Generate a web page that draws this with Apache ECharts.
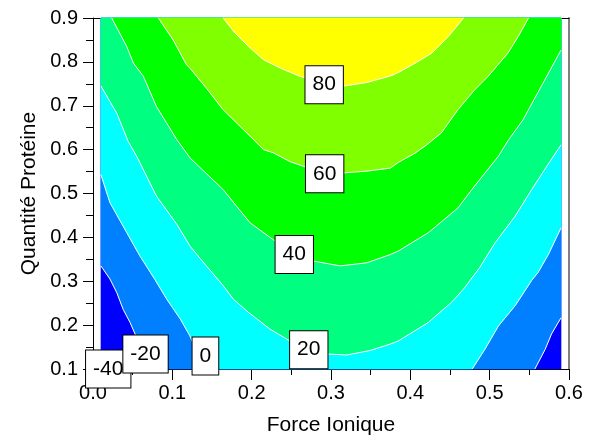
<!DOCTYPE html>
<html>
<head>
<meta charset="utf-8">
<script src="https://cdn.jsdelivr.net/npm/echarts@6/dist/echarts.min.js"></script>
<style>
html,body{margin:0;padding:0;background:#fff;}
#chart{width:598px;height:441px;}
</style>
</head>
<body>
<div id="chart"></div>
<script>
// ---- data ----
const levels = [-40, -20, 0, 20, 40, 60, 80];
const bandColors = ['#0000ff', '#0080ff', '#00ffff', '#00ff80', '#00ff00', '#80ff00', '#ffff00'];
const xExtent = [0.01, 0.59];
const yExtent = [0.1, 0.9];
const xTicks = [0, 0.1, 0.2, 0.3, 0.4, 0.5, 0.6];
const yTicks = [0.1, 0.2, 0.3, 0.4, 0.5, 0.6, 0.7, 0.8, 0.9];

// contour lines (x, y) — left pieces run top->bottom, right pieces bottom->top
const contourM20Left = [[0.01,0.335],[0.0214,0.305],[0.03,0.274],[0.038,0.236],[0.0467,0.206],[0.053,0.18],[0.065,0.1]];
const contourM20Right = [[0.557,0.1],[0.57,0.145],[0.578,0.18],[0.59,0.217]];
const contour0Left = [[0.01,0.543],[0.0214,0.479],[0.0425,0.411],[0.059,0.358],[0.078,0.304],[0.093,0.259],[0.11,0.214],[0.122,0.176],[0.14,0.1]];
const contour0Right = [[0.478,0.1],[0.494,0.145],[0.511,0.198],[0.532,0.244],[0.553,0.302],[0.561,0.32],[0.574,0.361],[0.59,0.422]];
const contour20 = [[0.01,0.745],[0.0299,0.683],[0.0445,0.618],[0.055,0.585],[0.08,0.494],[0.1056,0.43],[0.1223,0.38],[0.135,0.352],[0.164,0.29],[0.177,0.259],[0.196,0.229],[0.223,0.191],[0.248,0.164],[0.272,0.146],[0.297,0.134],[0.32,0.132],[0.349,0.142],[0.375,0.157],[0.385,0.164],[0.4226,0.206],[0.452,0.252],[0.467,0.282],[0.487,0.33],[0.507,0.388],[0.532,0.448],[0.553,0.509],[0.572,0.562],[0.59,0.611]];
const contour40 = [[0.0236,0.9],[0.0425,0.835],[0.051,0.797],[0.0635,0.767],[0.08,0.698],[0.1056,0.623],[0.1223,0.581],[0.164,0.509],[0.198,0.433],[0.227,0.395],[0.253,0.366],[0.278,0.346],[0.3115,0.335],[0.345,0.342],[0.375,0.361],[0.385,0.369],[0.423,0.411],[0.46,0.467],[0.481,0.517],[0.511,0.585],[0.523,0.62],[0.542,0.668],[0.565,0.744],[0.59,0.827]];
const contour60 = [[0.0824,0.9],[0.101,0.85],[0.118,0.793],[0.122,0.786],[0.143,0.74],[0.164,0.691],[0.19,0.645],[0.215,0.6],[0.227,0.593],[0.248,0.573],[0.267,0.561],[0.292,0.551],[0.316,0.547],[0.345,0.551],[0.375,0.558],[0.385,0.571],[0.406,0.592],[0.42,0.61],[0.439,0.638],[0.46,0.691],[0.481,0.736],[0.498,0.767],[0.523,0.82],[0.536,0.858],[0.549,0.9]];
const contour80 = [[0.164,0.9],[0.179,0.866],[0.196,0.835],[0.215,0.805],[0.236,0.786],[0.261,0.767],[0.29,0.753],[0.316,0.745],[0.345,0.753],[0.375,0.768],[0.385,0.776],[0.406,0.797],[0.427,0.82],[0.448,0.858],[0.467,0.9]];

const labelTexts = ['-40', '-20', '0', '20', '40', '60', '80'];
const labelX = [0.0192, 0.0662, 0.1417, 0.272, 0.2537, 0.292, 0.2914];
const labelY = [0.1, 0.134, 0.1295, 0.144, 0.361, 0.545, 0.748];

// ---- build filled regions (superlevel sets) ----
const X0 = xExtent[0], X1 = xExtent[1], Y0 = yExtent[0], Y1 = yExtent[1];
const regions = [
  [[X0,Y1],[X0,Y0],[X1,Y0],[X1,Y1]],
  contourM20Left.concat(contourM20Right, [[X1,Y1],[X0,Y1]]),
  contour0Left.concat(contour0Right, [[X1,Y1],[X0,Y1]]),
  contour20.concat([[X1,Y1],[X0,Y1]]),
  contour40.concat([[X1,Y1]]),
  contour60.slice(),
  contour80.slice()
];
const lines = [contourM20Left, contourM20Right, contour0Left, contour0Right, contour20, contour40, contour60, contour80];

const FONT = "'Liberation Sans', Arial, Helvetica, sans-serif";
const chart = echarts.init(document.getElementById('chart'), null, {renderer: 'canvas'});
const fmt = v => Number(v).toFixed(1);

chart.setOption({
  animation: false,
  textStyle: {fontFamily: FONT},
  grid: {left: 93, right: 29, top: 18, bottom: 71, containLabel: false},
  xAxis: [{
    type: 'value', min: xTicks[0], max: xTicks[xTicks.length - 1], interval: 0.1,
    name: 'Force Ionique', nameLocation: 'middle', nameGap: 46,
    nameTextStyle: {fontSize: 21, color: '#000', fontFamily: FONT},
    axisLine: {show: true, onZero: false, lineStyle: {color: '#000', width: 1}},
    axisTick: {show: true, length: 11, lineStyle: {color: '#000'}},
    minorTick: {show: true, splitNumber: 2, length: 6, lineStyle: {color: '#000'}},
    axisLabel: {formatter: fmt, fontSize: 20, color: '#000', margin: 14, fontFamily: FONT},
    splitLine: {show: false}
  }, {
    type: 'value', position: 'top', min: xTicks[0], max: xTicks[xTicks.length - 1],
    axisLine: {show: true, onZero: false, lineStyle: {color: '#000', width: 1}},
    axisTick: {show: false}, axisLabel: {show: false}, splitLine: {show: false}
  }],
  yAxis: [{
    type: 'value', min: yTicks[0], max: yTicks[yTicks.length - 1], interval: 0.1,
    name: 'Quantité Protéine', nameLocation: 'middle', nameGap: 52,
    nameTextStyle: {fontSize: 21, color: '#000', fontFamily: FONT},
    axisLine: {show: true, onZero: false, lineStyle: {color: '#000', width: 1}},
    axisTick: {show: true, length: 10, lineStyle: {color: '#000'}},
    minorTick: {show: true, splitNumber: 2, length: 7, lineStyle: {color: '#000'}},
    axisLabel: {formatter: fmt, fontSize: 20, color: '#000', margin: 15, fontFamily: FONT},
    splitLine: {show: false}
  }, {
    type: 'value', position: 'right', min: yTicks[0], max: yTicks[yTicks.length - 1],
    axisLine: {show: true, onZero: false, lineStyle: {color: '#808080', width: 2}},
    axisTick: {show: false}, axisLabel: {show: false}, splitLine: {show: false}
  }],
  series: [
    {
      type: 'custom', name: 'bands', z: 2,
      data: regions.map((r, i) => [0.3, 0.5, i]),
      renderItem: function (params, api) {
        const idx = api.value(2);
        const pts = regions[idx].map(p => api.coord(p));
        return {type: 'polygon', shape: {points: pts}, style: {fill: bandColors[idx], stroke: bandColors[idx], lineWidth: 0.5}};
      }
    },
    {
      type: 'custom', name: 'contours', z: 3,
      data: lines.map((l, i) => [0.3, 0.5, i]),
      renderItem: function (params, api) {
        const idx = api.value(2);
        const pts = lines[idx].map(p => api.coord(p));
        return {type: 'polyline', shape: {points: pts}, style: {stroke: '#ffffff', lineWidth: 1, fill: null}};
      }
    },
    {
      type: 'custom', name: 'labels', z: 4,
      data: labelTexts.map((t, i) => [labelX[i], labelY[i], i]),
      renderItem: function (params, api) {
        const idx = api.value(2);
        const c = api.coord([api.value(0), api.value(1)]);
        return {
          type: 'text', x: c[0], y: c[1],
          style: {
            text: labelTexts[idx], font: '21px ' + FONT, fill: '#000',
            align: 'center', verticalAlign: 'middle', lineHeight: 21,
            backgroundColor: '#fff', borderColor: '#000', borderWidth: 1, padding: [8, 7]
          }
        };
      }
    }
  ]
});
</script>
</body>
</html>
